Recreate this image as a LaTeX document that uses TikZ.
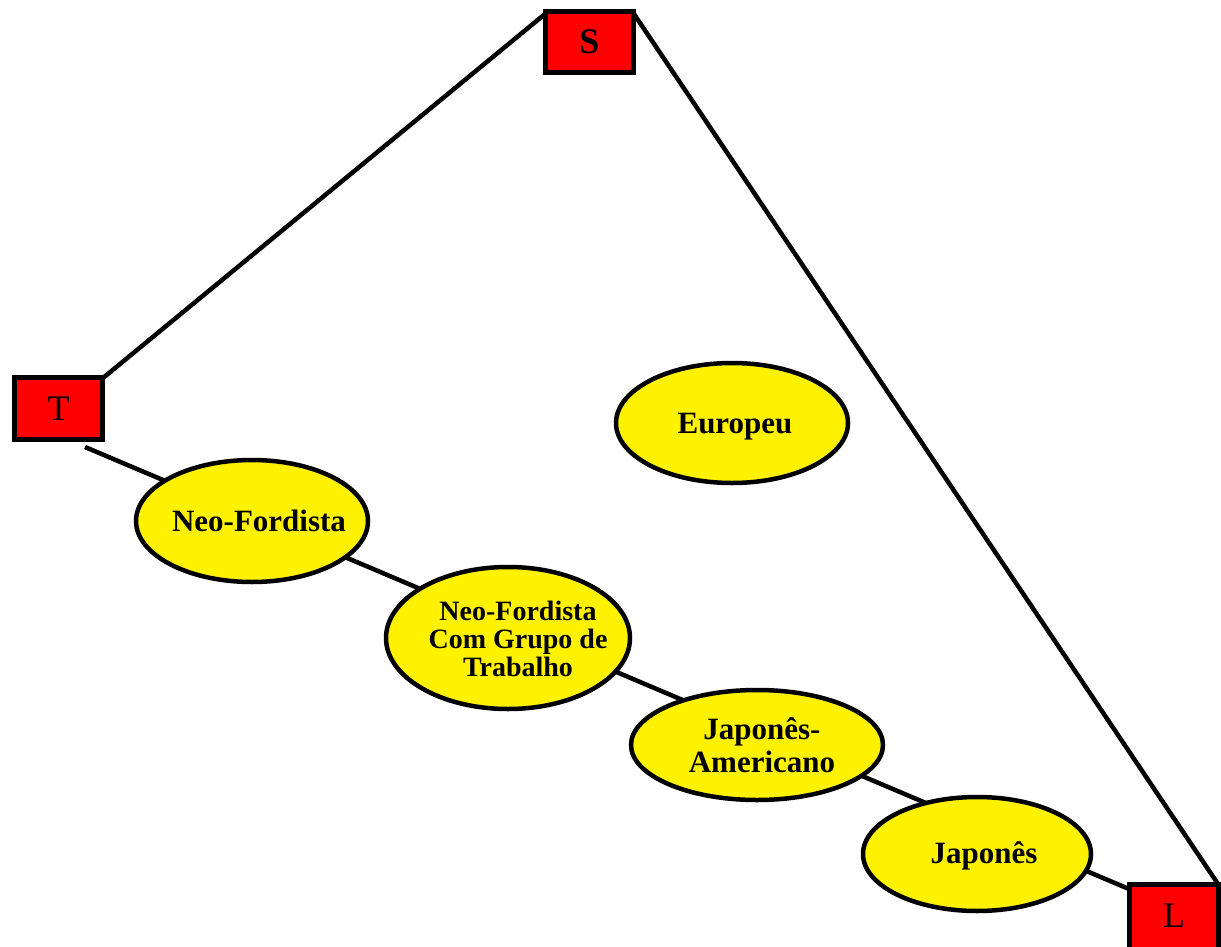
\documentclass[tikz,border=0pt]{standalone}
\usepackage{fontspec}
\setmainfont{Liberation Serif}
\usetikzlibrary{shapes.geometric}
\begin{document}
\begin{tikzpicture}[x=1pt,y=-1pt,
  box/.style={draw=black,fill=red,line width=5pt,rectangle},
  oval/.style={draw=black,fill=yellow,line width=4.5pt},
  lbl/.style={align=center,font=\fontsize{31}{33}\selectfont\bfseries},
  link/.style={draw=black,line width=4.5pt}]
\useasboundingbox[fill=white] (0,0) rectangle (1221,947);
% connectors first
\coordinate (t0) at (85,447);
\coordinate (Stl) at (545,14);
\coordinate (Str) at (634,14);
\coordinate (Ttr) at (103,378);
\coordinate (Ltr) at (1218,884);
\coordinate (Lleft) at (1129,889);
\coordinate (nf) at (252,521);
\coordinate (nfc) at (508,638);
\coordinate (ja) at (757,745);
\coordinate (jp) at (977,854);
\coordinate (eu) at (732,423);
\draw[link] (Stl) -- (Ttr);
\draw[link] (Str) -- (Ltr);
\draw[link] (t0) -- (Lleft);
% boxes
\filldraw[box] (545.5,11.5) rectangle (633.5,72.5);
\node (S) at (589.5,42) {\fontsize{36}{36}\selectfont\bfseries S};
\filldraw[box] (14.5,377.5) rectangle (102.5,439.5);
\node (T) at (58.5,408.5) {\fontsize{36}{36}\selectfont T};
\filldraw[box] (1129.5,884.5) rectangle (1218.5,955);
\node (L) at (1174,916) {\fontsize{36}{36}\selectfont L};
% ellipses
\draw[oval] (nf) ellipse [x radius=116, y radius=61];
\node[lbl] (NF) at (259,521) {Neo-Fordista};
\draw[oval] (nfc) ellipse [x radius=122, y radius=71];
\node[lbl,font=\fontsize{28}{28}\selectfont\bfseries] (NFC) at (518,639) {Neo-Fordista\\Com Grupo de\\Trabalho};
\draw[oval] (ja) ellipse [x radius=126, y radius=55];
\node[lbl] (JA) at (762,745) {Japonês-\\Americano};
\draw[oval] (jp) ellipse [x radius=114, y radius=57];
\node[lbl] (JP) at (984,856) {Japonês};
\draw[oval] (eu) ellipse [x radius=116, y radius=60];
\node[lbl] (EU) at (735,427) {Europeu};
\end{tikzpicture}
\end{document}
